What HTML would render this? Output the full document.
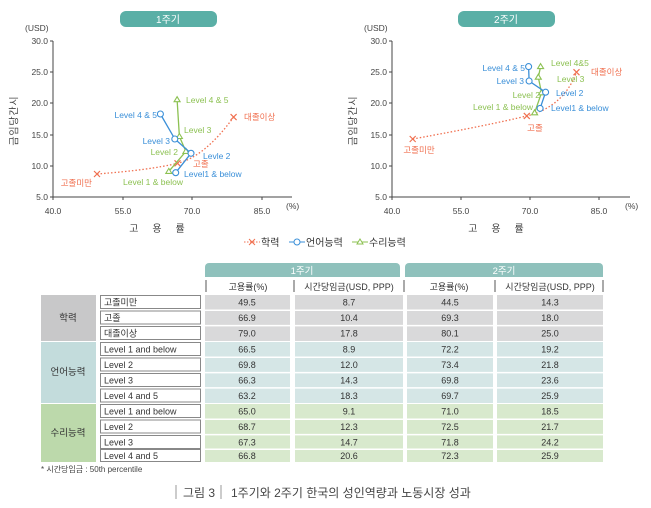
<!DOCTYPE html>
<html><head><meta charset="utf-8"><style>
body{margin:0;background:#fff;}
svg{display:block;font-family:"Liberation Sans","Noto Sans CJK KR",sans-serif;}
</style></head><body>
<svg width="651" height="508" viewBox="0 0 651 508" xmlns="http://www.w3.org/2000/svg">
<rect x="120" y="11" width="97" height="16" rx="6" fill="#5aafa6"/>
<text x="168" y="23" font-size="10" fill="#fff" text-anchor="middle">1주기</text>
<rect x="458" y="11" width="97" height="16" rx="6" fill="#5aafa6"/>
<text x="506" y="23" font-size="10" fill="#fff" text-anchor="middle">2주기</text>

<g font-size="8.5" fill="#444">
<text x="25" y="31">(USD)</text>
<path d="M53 41V197H292" stroke="#444" fill="none" stroke-width="1"/>
<g text-anchor="end">
<text x="48" y="44">30.0</text><text x="48" y="75">25.0</text><text x="48" y="106">20.0</text><text x="48" y="138">15.0</text><text x="48" y="169">10.0</text><text x="48" y="200">5.0</text>
</g>
<path d="M50 41h3M50 72h3M50 103h3M50 135h3M50 166h3M50 197h3M53 197v3M123 197v3M192 197v3M262 197v3" stroke="#444"/>
<g text-anchor="middle"><text x="53" y="214">40.0</text><text x="123" y="214">55.0</text><text x="192" y="214">70.0</text><text x="262" y="214">85.0</text></g>
<text x="286" y="209">(%)</text>
<text x="157" y="232" font-size="10" text-anchor="middle">고&#160;&#160;&#160;&#160;&#160;용&#160;&#160;&#160;&#160;&#160;률</text>
<g font-size="10">
<text transform="translate(14,101) rotate(-90)" text-anchor="middle" dy="3.5">시</text>
<text transform="translate(14,111) rotate(-90)" text-anchor="middle" dy="3.5">간</text>
<text transform="translate(14,121) rotate(-90)" text-anchor="middle" dy="3.5">당</text>
<text transform="translate(14,131) rotate(-90)" text-anchor="middle" dy="3.5">임</text>
<text transform="translate(14,141) rotate(-90)" text-anchor="middle" dy="3.5">금</text>
<text transform="translate(353,101) rotate(-90)" text-anchor="middle" dy="3.5">시</text>
<text transform="translate(353,111) rotate(-90)" text-anchor="middle" dy="3.5">간</text>
<text transform="translate(353,121) rotate(-90)" text-anchor="middle" dy="3.5">당</text>
<text transform="translate(353,131) rotate(-90)" text-anchor="middle" dy="3.5">임</text>
<text transform="translate(353,141) rotate(-90)" text-anchor="middle" dy="3.5">금</text>
</g>

<text x="364" y="31">(USD)</text>
<path d="M392 41V197H630" stroke="#444" fill="none"/>
<g text-anchor="end">
<text x="387" y="44">30.0</text><text x="387" y="75">25.0</text><text x="387" y="106">20.0</text><text x="387" y="138">15.0</text><text x="387" y="169">10.0</text><text x="387" y="200">5.0</text>
</g>
<path d="M389 41h3M389 72h3M389 103h3M389 135h3M389 166h3M389 197h3M392 197v3M461 197v3M530 197v3M599 197v3" stroke="#444"/>
<g text-anchor="middle"><text x="392" y="214">40.0</text><text x="461" y="214">55.0</text><text x="530" y="214">70.0</text><text x="599" y="214">85.0</text></g>
<text x="625" y="209">(%)</text>
<text x="496" y="232" font-size="10" text-anchor="middle">고&#160;&#160;&#160;&#160;&#160;용&#160;&#160;&#160;&#160;&#160;률</text>
</g>

<path d="M97 174 Q150 170 177.5 163.3 T233.6 117.1" stroke="#f07050" stroke-dasharray="1.5 2" fill="none" stroke-width="1.3"/>
<g stroke="#f07050" stroke-width="1.2"><path d="M94 171l6 6M100 171l-6 6M174.5 160.3l6 6M180.5 160.3l-6 6M230.6 114.1l6 6M236.6 114.1l-6 6"/></g>
<polyline points="168.8,171.4 185.9,151.4 179.4,136.5 177.1,99.7" stroke="#8cc152" fill="none" stroke-width="1.3"/>
<g fill="#fff" stroke="#8cc152" stroke-width="1.1"><path d="M168.8 168.4l3 5h-6z M185.9 148.4l3 5h-6z M179.4 133.5l3 5h-6z M177.1 96.7l3 5h-6z"/></g>
<polyline points="175.7,172.7 191,153.3 174.8,139 160.4,114" stroke="#3a8fd8" fill="none" stroke-width="1.3"/>
<g fill="#fff" stroke="#3a8fd8" stroke-width="1.1"><circle cx="175.7" cy="172.7" r="3"/><circle cx="191" cy="153.3" r="3"/><circle cx="174.8" cy="139" r="3"/><circle cx="160.4" cy="114" r="3"/></g>
<g font-size="8.5">
<text x="186" y="103" fill="#8cc152">Level 4 &amp; 5</text>
<text x="157" y="118" fill="#3a8fd8" text-anchor="end">Level 4 &amp; 5</text>
<text x="244" y="120" fill="#f07050">대졸이상</text>
<text x="184" y="133" fill="#8cc152">Level 3</text>
<text x="170" y="144" fill="#3a8fd8" text-anchor="end">Level 3</text>
<text x="178" y="155" fill="#8cc152" text-anchor="end">Level 2</text>
<text x="203" y="159" fill="#3a8fd8">Levle 2</text>
<text x="193" y="167" fill="#f07050">고졸</text>
<text x="184" y="177" fill="#3a8fd8">Level1 &amp; below</text>
<text x="153" y="185" fill="#8cc152" text-anchor="middle">Level 1 &amp; below</text>
<text x="92" y="186" fill="#f07050" text-anchor="end">고졸미만</text>
</g>

<path d="M412.7 139 Q490 125 526.8 115.9 T576.5 72.2" stroke="#f07050" stroke-dasharray="1.5 2" fill="none" stroke-width="1.3"/>
<g stroke="#f07050" stroke-width="1.2"><path d="M409.7 136l6 6M415.7 136l-6 6M523.8 112.9l6 6M529.8 112.9l-6 6M573.5 69.2l6 6M579.5 69.2l-6 6"/></g>
<polyline points="534.6,112.8 541.5,92.8 538.3,77.2 540.6,66.6" stroke="#8cc152" fill="none" stroke-width="1.3"/>
<g fill="#fff" stroke="#8cc152" stroke-width="1.1"><path d="M534.6 109.8l3 5h-6z M541.5 89.8l3 5h-6z M538.3 74.2l3 5h-6z M540.6 63.6l3 5h-6z"/></g>
<polyline points="540.1,108.4 545.6,92.2 529.1,81 528.6,66.6" stroke="#3a8fd8" fill="none" stroke-width="1.3"/>
<g fill="#fff" stroke="#3a8fd8" stroke-width="1.1"><circle cx="540.1" cy="108.4" r="3"/><circle cx="545.6" cy="92.2" r="3"/><circle cx="529.1" cy="81" r="3"/><circle cx="528.6" cy="66.6" r="3"/></g>
<g font-size="8.5">
<text x="525" y="71" fill="#3a8fd8" text-anchor="end">Level 4 &amp; 5</text>
<text x="551" y="66" fill="#8cc152">Level 4&amp;5</text>
<text x="591" y="75" fill="#f07050">대졸이상</text>
<text x="524" y="84" fill="#3a8fd8" text-anchor="end">Level 3</text>
<text x="557" y="82" fill="#8cc152">Level 3</text>
<text x="540" y="98" fill="#8cc152" text-anchor="end">Level 2</text>
<text x="556" y="96" fill="#3a8fd8">Level 2</text>
<text x="533" y="110" fill="#8cc152" text-anchor="end">Level 1 &amp; below</text>
<text x="551" y="111" fill="#3a8fd8">Level1 &amp; below</text>
<text x="535" y="131" fill="#f07050" text-anchor="middle">고졸</text>
<text x="419" y="153" fill="#f07050" text-anchor="middle">고졸미만</text>
</g>

<g font-size="10" fill="#333">
<path d="M244 242h16" stroke="#f07050" stroke-dasharray="1.5 1.5"/><path d="M249 239l6 6M255 239l-6 6" stroke="#f07050"/>
<text x="261" y="246">학력</text>
<path d="M289 242h16" stroke="#3a8fd8"/><circle cx="297" cy="242" r="3" fill="#fff" stroke="#3a8fd8"/>
<text x="306" y="246">언어능력</text>
<path d="M352 242h16" stroke="#8cc152"/><path d="M360 239l3 5h-6z" fill="#fff" stroke="#8cc152"/>
<text x="369" y="246">수리능력</text>
</g>

<path d="M205 277V267a4 4 0 0 1 4-4H396a4 4 0 0 1 4 4V277z" fill="#8fc1bc"/>
<path d="M405 277V267a4 4 0 0 1 4-4H599a4 4 0 0 1 4 4V277z" fill="#8fc1bc"/>
<text x="302" y="274" font-size="9.5" fill="#fff" text-anchor="middle">1주기</text>
<text x="504" y="274" font-size="9.5" fill="#fff" text-anchor="middle">2주기</text>
<path d="M206 280v12M294 280v12M404 280v12M495 280v12M603 280v12" stroke="#555"/>
<g font-size="9" fill="#333" text-anchor="middle">
<text x="248" y="290">고용률(%)</text><text x="349" y="290">시간당임금(USD, PPP)</text><text x="449" y="290">고용률(%)</text><text x="550" y="290">시간당임금(USD, PPP)</text>
</g>
<rect x="41" y="295" width="55" height="46" fill="#c8c8c9"/>
<rect x="41" y="342" width="55" height="61" fill="#c3dcdc"/>
<rect x="41" y="404" width="55" height="58" fill="#bcd9ab"/>
<g font-size="9.5" fill="#333" text-anchor="middle"><text x="68" y="321">학력</text><text x="68" y="375">언어능력</text><text x="68" y="436">수리능력</text></g>

<!-- cell backgrounds -->
<g fill="#d9d9da">
<rect x="205" y="295" width="85" height="46"/><rect x="295" y="295" width="108" height="46"/><rect x="407" y="295" width="86" height="46"/><rect x="497" y="295" width="106" height="46"/>
</g>
<g fill="#d5e6e6">
<rect x="205" y="342" width="85" height="61"/><rect x="295" y="342" width="108" height="61"/><rect x="407" y="342" width="86" height="61"/><rect x="497" y="342" width="106" height="61"/>
</g>
<g fill="#d8e9cd">
<rect x="205" y="404" width="85" height="58"/><rect x="295" y="404" width="108" height="58"/><rect x="407" y="404" width="86" height="58"/><rect x="497" y="404" width="106" height="58"/>
</g>
<!-- row separators (white) -->
<path d="M205 310.3H603M205 325.6H603M205 357.3H603M205 372.6H603M205 387.9H603M205 419.3H603M205 434.6H603M205 449.2H603" stroke="#fff" stroke-width="1.5"/>
<!-- row label boxes -->
<g fill="#fff" stroke="#888">
<rect x="100.5" y="295.5" width="100" height="13"/><rect x="100.5" y="311" width="100" height="13"/><rect x="100.5" y="326.5" width="100" height="13"/>
<rect x="100.5" y="342.5" width="100" height="13"/><rect x="100.5" y="358" width="100" height="13"/><rect x="100.5" y="373.5" width="100" height="13"/><rect x="100.5" y="389" width="100" height="13"/>
<rect x="100.5" y="404.5" width="100" height="13"/><rect x="100.5" y="420" width="100" height="13"/><rect x="100.5" y="435.5" width="100" height="13"/><rect x="100.5" y="449.5" width="100" height="12"/>
</g>
<g font-size="9" fill="#333">
<text x="104" y="305.5">고졸미만</text><text x="104" y="321">고졸</text><text x="104" y="336.5">대졸이상</text>
<text x="104" y="352.5">Level 1 and below</text><text x="104" y="368">Level 2</text><text x="104" y="383.5">Level 3</text><text x="104" y="399">Level 4 and 5</text>
<text x="104" y="414.5">Level 1 and below</text><text x="104" y="430">Level 2</text><text x="104" y="445.5">Level 3</text><text x="104" y="459">Level 4 and 5</text>
</g>
<g font-size="9" fill="#333" text-anchor="middle">
<text x="247" y="305.5">49.5</text><text x="349" y="305.5">8.7</text><text x="450" y="305.5">44.5</text><text x="550" y="305.5">14.3</text>
<text x="247" y="321">66.9</text><text x="349" y="321">10.4</text><text x="450" y="321">69.3</text><text x="550" y="321">18.0</text>
<text x="247" y="336.5">79.0</text><text x="349" y="336.5">17.8</text><text x="450" y="336.5">80.1</text><text x="550" y="336.5">25.0</text>
<text x="247" y="352.5">66.5</text><text x="349" y="352.5">8.9</text><text x="450" y="352.5">72.2</text><text x="550" y="352.5">19.2</text>
<text x="247" y="368">69.8</text><text x="349" y="368">12.0</text><text x="450" y="368">73.4</text><text x="550" y="368">21.8</text>
<text x="247" y="383.5">66.3</text><text x="349" y="383.5">14.3</text><text x="450" y="383.5">69.8</text><text x="550" y="383.5">23.6</text>
<text x="247" y="399">63.2</text><text x="349" y="399">18.3</text><text x="450" y="399">69.7</text><text x="550" y="399">25.9</text>
<text x="247" y="414.5">65.0</text><text x="349" y="414.5">9.1</text><text x="450" y="414.5">71.0</text><text x="550" y="414.5">18.5</text>
<text x="247" y="430">68.7</text><text x="349" y="430">12.3</text><text x="450" y="430">72.5</text><text x="550" y="430">21.7</text>
<text x="247" y="445.5">67.3</text><text x="349" y="445.5">14.7</text><text x="450" y="445.5">71.8</text><text x="550" y="445.5">24.2</text>
<text x="247" y="459">66.8</text><text x="349" y="459">20.6</text><text x="450" y="459">72.3</text><text x="550" y="459">25.9</text>
</g>
<text x="41" y="472" font-size="8" fill="#444">* 시간당임금 : 50th percentile</text>
<g font-size="12" fill="#444">
<path d="M176 485v14M221 485v14" stroke="#999"/>
<text x="183" y="497">그림 3</text>
<text x="231" y="497">1주기와 2주기 한국의 성인역량과 노동시장 성과</text>
</g>
</svg>
</body></html>
